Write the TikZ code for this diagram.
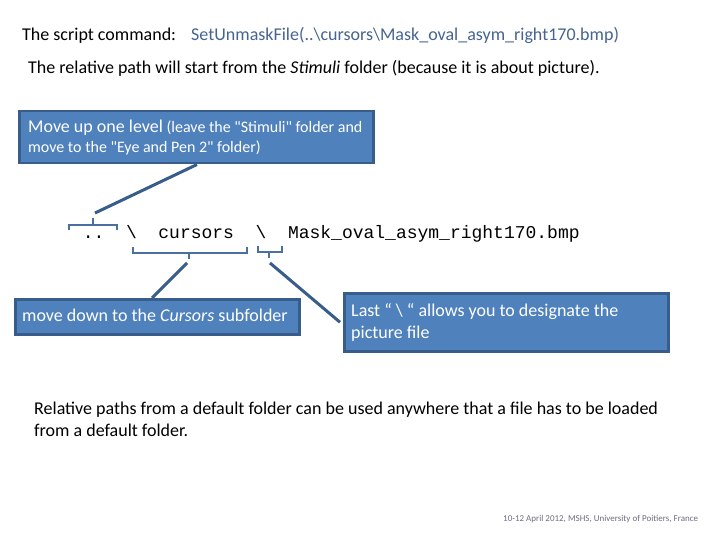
\documentclass[tikz,border=0pt]{standalone}
\usepackage{fontspec}
\setmainfont{Carlito}
\newfontfamily\rawfont{Carlito}
\newfontfamily\monof{Liberation Mono}
\usetikzlibrary{calc}
\definecolor{boxfill}{HTML}{4F81BD}
\definecolor{boxline}{HTML}{385D8A}
\definecolor{cmdblue}{RGB}{70,100,145}
\definecolor{brk}{HTML}{4A70A0}
\definecolor{foot}{RGB}{110,110,130}
\newcommand{\sq}{{\rawfont"}}
\begin{document}
\begin{tikzpicture}[x=1pt,y=-1pt,
  txt/.style={anchor=base west, inner sep=0pt, font=\fontsize{18}{21.6}\selectfont},
  wtxt/.style={txt, text=white},
  stxt/.style={anchor=base west, inner sep=0pt, text=white, font=\fontsize{16}{19.2}\selectfont},
  mtxt/.style={anchor=base west, inner sep=0pt, font=\monof\fontsize{18}{21.6}\selectfont},
  box/.style={draw=boxline, line width=2.5pt, fill=boxfill, anchor=north west, inner sep=0pt},
  conn/.style={draw=boxline, line width=3pt},
  bracket/.style={draw=brk, line width=2.5pt}
]
\useasboundingbox[fill=white] (0,0) rectangle (720,540);

% title lines
\node[txt] (lab) at (22,41) {The script command:};
\node[txt, text=cmdblue] (cmd) at (191,41) {SetUnmaskFile(..\textbackslash cursors\textbackslash Mask\_oval\_asym\_right170.bmp)};
\node[txt] (rel) at (28,74) {The relative path will start from the \textit{Stimuli} folder (because it is about picture).};

% box 1
\node[box, minimum width=354pt, minimum height=52pt] (b1) at (18,110) {};
\node[wtxt] (b1a) at (28,133) {Move up one level\fontsize{16}{19.2}\selectfont{} (leave the \sq Stimuli\sq{} folder and};
\node[stxt] (b1b) at (28,153) {move to the \sq Eye and Pen 2\sq{} folder)};

% path text
\node[mtxt] (dd) at (82.6,238) {..};
\node[mtxt] (bs1) at (125.8,238) {\textbackslash};
\node[mtxt] (cur) at (158.2,238) {cursors};
\node[mtxt] (bs2) at (255.4,238) {\textbackslash};
\node[mtxt] (file) at (287.8,238) {Mask\_oval\_asym\_right170.bmp};

% brackets
\coordinate (k1) at (93,218);
\coordinate (k2) at (189,259);
\coordinate (k3) at (269,258);
\draw[bracket] (69,230) -- (69,225) -- (117,225) -- (117,230);
\draw[bracket] (93,225) -- (k1);
\draw[bracket] (133,247) -- (133,253) -- (247,253) -- (247,247);
\draw[bracket] (189,253) -- (k2);
\draw[bracket] (258,246) -- (258,252) -- (282,252) -- (282,246);
\draw[bracket] (269,252) -- (k3);

% box 2
\node[box, minimum width=284pt, minimum height=35pt] (b2) at (14,298) {};
\node[wtxt] (b2t) at (22,321) {move down to the \textit{Cursors} subfolder};

% box 3
\node[box, minimum width=324pt, minimum height=58pt] (b3) at (343,292) {};
\node[wtxt] (b3a) at (351,316) {Last “ \textbackslash{} “ allows you to designate the};
\node[wtxt] (b3b) at (351,338) {picture file};

% connectors
\coordinate (e1) at (95,213);
\coordinate (e2) at (187,263);
\coordinate (e3) at (270,263);
\draw[conn] ([xshift=179pt]b1.south west) -- (e1);
\draw[conn] (e2) -- ([xshift=138pt]b2.north west);
\draw[conn] (e3) -- ([xshift=-3pt]b3.west);

% bottom text
\node[txt] (bt1) at (34,414) {Relative paths from a default folder can be used anywhere that a file has to be loaded};
\node[txt] (bt2) at (34,436) {from a default folder.};

% footer
\node[anchor=base west, inner sep=0pt, text=foot, font=\fontsize{9}{10.8}\selectfont] (ft) at (503,521) {10-12 April 2012, MSHS, University of Poitiers, France};
\end{tikzpicture}
\end{document}
